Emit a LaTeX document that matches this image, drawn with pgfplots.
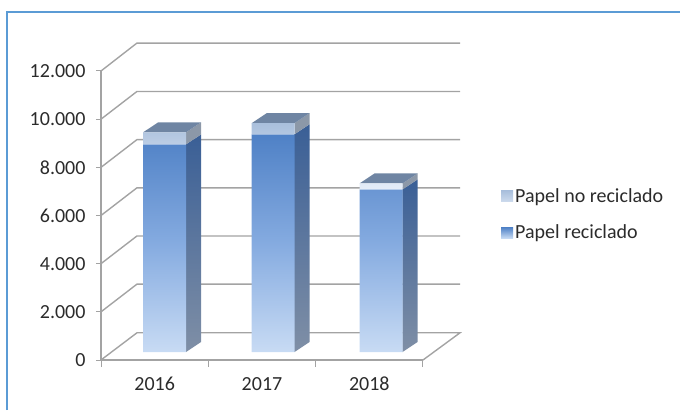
\documentclass[border=0pt]{standalone}
\usepackage{pgfplots}
\pgfplotsset{compat=1.18}
\usepackage{fontspec}
\setmainfont[Numbers=Lining]{Carlito}
\definecolor{gridc}{HTML}{A3A3A3}
\definecolor{framec}{HTML}{5B9BD5}
\definecolor{txt}{HTML}{2B2B2B}
\definecolor{ftop}{HTML}{4F81C6}
\definecolor{fmid}{HTML}{85ABE0}
\definecolor{fbot}{HTML}{C8DBF4}
\definecolor{utop}{HTML}{A9BFDC}
\definecolor{ubot}{HTML}{E6EEF9}
\definecolor{stop}{HTML}{3A5F96}
\definecolor{sbot}{HTML}{7F8FA6}
\definecolor{ugrey}{HTML}{8C98A8}
\definecolor{topf}{HTML}{6F85A3}
\pgfplotsset{
  front/.style={top color=ftop,bottom color=fbot,middle color=fmid,draw=none},
  upper/.style={top color=utop,bottom color=ubot,draw=none},
  side/.style={top color=stop,bottom color=sbot,draw=none,no markers,forget plot,yshift=8pt},
  uside/.style={fill=ugrey,draw=none,no markers,forget plot,yshift=8pt},
  topface/.style={fill=topf,draw=none,no markers,forget plot,yshift=8pt},
}
\begin{document}
\begin{tikzpicture}[x=1pt,y=1pt]
\path[use as bounding box] (0,0) rectangle (680,410);
\draw[framec,line width=1.5pt] (7,0) -- (7,398) -- (680,398);
\begin{axis}[
  at={(101pt,50pt)}, anchor=south west,
  scale only axis, width=322pt, height=289pt,
  xmin=0, xmax=3, ymin=0, ymax=12000,
  clip=false, axis line style={gridc,line width=1.3pt},
  axis x line*=bottom, axis y line*=left,
  axis line style={-},
  ytick={0,2000,4000,6000,8000,10000,12000},
  xtick={0.5,1.5,2.5}, xticklabels={2016,2017,2018},
  minor xtick={0,1,2,3},
  tick align=outside,
  major tick length=5pt, minor tick length=7pt,
  major x tick style={draw=none},
  minor x tick style={gridc,line width=1pt},
  y tick style={gridc,line width=1pt},
  xticklabel style={yshift=-9pt,text height=13pt,text depth=0pt},
  yticklabel style={xshift=-7pt},
  tick label style={font=\fontsize{20}{22}\selectfont,text=txt},
  scaled y ticks=false,
  /pgf/number format/assume math mode=true,
  /pgf/number format/fixed,
  /pgf/number format/1000 sep={.},
  unbounded coords=jump,
  legend cell align=left,
  legend style={at={(axis cs:3.727,6040)},anchor=west,draw=none,fill=none,
    font=\fontsize{20}{22}\selectfont,text=txt,row sep=17pt,inner sep=0pt},
  legend image code/.code={},
]
% walls and floor
\addplot[gridc,line width=1.4pt,no markers,forget plot] coordinates {
 (0,0)(0.335,1130)(3.345,1130)(3,0) (nan,nan)
 (0,2000)(0.335,3150)(3.345,3150) (nan,nan)
 (0,4000)(0.335,5150)(3.345,5150) (nan,nan)
 (0,6000)(0.335,7150)(3.345,7150) (nan,nan)
 (0,8000)(0.335,9150)(3.345,9150) (nan,nan)
 (0,10000)(0.335,11150)(3.345,11150) (nan,nan)
 (0,12000)(0.335,13160)(3.345,13160)
};
% side faces
\addplot[side] coordinates {(0.792,0)(0.932,415)(0.932,9035)(0.792,8620)} -- cycle;
\addplot[side] coordinates {(1.803,0)(1.943,415)(1.943,9455)(1.803,9040)} -- cycle;
\addplot[side] coordinates {(2.809,0)(2.949,415)(2.949,7165)(2.809,6750)} -- cycle;
\addplot[uside] coordinates {(0.792,8620)(0.932,9035)(0.932,9535)(0.792,9120)} -- cycle;
\addplot[uside] coordinates {(1.803,9040)(1.943,9455)(1.943,9915)(1.803,9500)} -- cycle;
\addplot[uside] coordinates {(2.809,6750)(2.949,7165)(2.949,7415)(2.809,7000)} -- cycle;
% top faces
\addplot[topface] coordinates {(0.392,9120)(0.792,9120)(0.932,9535)(0.532,9535)} -- cycle;
\addplot[topface] coordinates {(1.403,9500)(1.803,9500)(1.943,9915)(1.543,9915)} -- cycle;
\addplot[topface] coordinates {(2.409,7000)(2.809,7000)(2.949,7415)(2.549,7415)} -- cycle;
% front faces
\addplot[ybar,stack plots=y,bar width=43pt,bar shift=0pt,front,yshift=8pt,forget plot] coordinates {(0.592,8620)(1.603,9040)(2.609,6750)};
\addplot[ybar,stack plots=y,bar width=43pt,bar shift=0pt,upper,yshift=8pt,forget plot] coordinates {(0.592,500)(1.603,460)(2.609,250)};
% legend
\addlegendimage{legend image code/.code={\path[draw=none,top color=utop,bottom color=ubot!60!utop] (-20pt,-5.5pt) rectangle (-8pt,5.5pt);}}
\addlegendentry{Papel no reciclado}
\addlegendimage{legend image code/.code={\path[draw=none,top color=ftop,bottom color=fbot] (-20pt,-5.5pt) rectangle (-8pt,5.5pt);}}
\addlegendentry{Papel reciclado}
\end{axis}
\end{tikzpicture}
\end{document}
